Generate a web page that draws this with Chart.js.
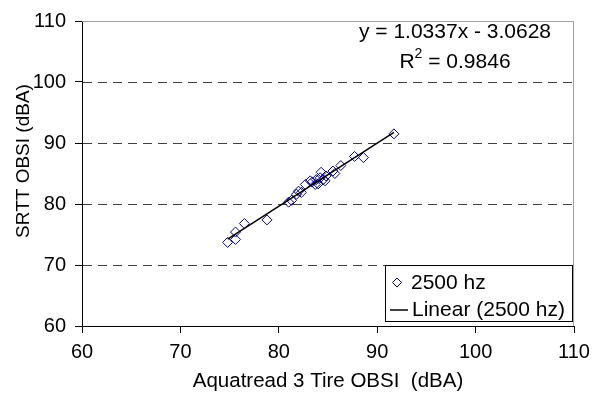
<!DOCTYPE html>
<html>
<head>
<meta charset="utf-8">
<script src="https://cdn.jsdelivr.net/npm/chart.js@4"></script>
<style>
  html, body { margin: 0; padding: 0; background: #fff; }
  #wrap { width: 600px; height: 396px; }
</style>
</head>
<body>
<div id="wrap"><canvas id="chart" width="600" height="396"></canvas></div>
<script>
// Aquatread 3 tire vs SRTT OBSI levels at 2500 hz
const aquatread = [74.8, 75.6, 75.6, 76.5, 78.8, 81.0, 81.3, 81.8, 82.0, 82.3, 82.7, 83.2, 83.4,
    83.7, 83.8, 84.0, 84.2, 84.3, 84.5, 84.7, 84.8, 85.5, 85.7, 86.3, 87.7, 88.6, 91.7];
const srtt = [73.7, 74.2, 75.4, 76.8, 77.4, 80.3, 80.6, 81.6, 82.1, 81.9, 83.2, 83.8, 83.6,
    83.2, 84.0, 83.3, 84.3, 85.2, 84.0, 83.8, 84.6, 85.4, 85.0, 86.3, 87.8, 87.6, 91.5];
const axisTicks = [60, 70, 80, 90, 100, 110];
const gridValues = [70, 80, 90, 100];

// Linear fit reported on the chart
const slope = 1.0337;
const intercept = -3.0628;
const rSquared = 0.9846;

const FONT = "'Liberation Sans', Arial, sans-serif";

const points = aquatread.map((x, i) => ({ x: x, y: srtt[i] }));
const xMin = Math.min(...aquatread);
const xMax = Math.max(...aquatread);
const trend = [xMin, xMax].map(x => ({ x: x, y: slope * x + intercept }));

// dashed horizontal grid under the data
const dashedGrid = {
    id: 'dashedGrid',
    beforeDatasetsDraw(chart) {
        const ctx = chart.ctx;
        const a = chart.chartArea;
        const y = chart.scales.y;
        ctx.save();
        ctx.strokeStyle = '#404040';
        ctx.lineWidth = 1;
        ctx.setLineDash([9, 6]);
        gridValues.forEach(v => {
            const py = Math.round(y.getPixelForValue(v)) + 0.5;
            ctx.beginPath();
            ctx.moveTo(a.left + 1, py);
            ctx.lineTo(a.right, py);
            ctx.stroke();
        });
        ctx.restore();
    }
};

// frame, y title, regression text and legend box
const overlay = {
    id: 'overlay',
    afterDraw(chart) {
        const ctx = chart.ctx;
        const a = chart.chartArea;
        ctx.save();

        ctx.strokeStyle = '#a0a0a0';
        ctx.lineWidth = 1;
        ctx.beginPath();
        ctx.moveTo(a.left, a.top + 0.5);
        ctx.lineTo(a.right - 0.5, a.top + 0.5);
        ctx.lineTo(a.right - 0.5, a.bottom);
        ctx.stroke();

        // y axis title
        ctx.fillStyle = '#000';
        ctx.save();
        ctx.translate(24, 161);
        ctx.rotate(-Math.PI / 2);
        ctx.font = '19px ' + FONT;
        ctx.textAlign = 'center';
        ctx.textBaseline = 'middle';
        ctx.fillText('SRTT OBSI (dBA)', 0, 0);
        ctx.restore();

        // equation
        ctx.font = '21px ' + FONT;
        ctx.textBaseline = 'alphabetic';
        ctx.textAlign = 'center';
        const cx = 455;
        ctx.fillText('y = ' + slope.toFixed(4) + 'x - ' + Math.abs(intercept).toFixed(4), cx, 38);
        const rest = ' = ' + rSquared.toFixed(4);
        const wR = ctx.measureText('R').width;
        ctx.font = '14px ' + FONT;
        const w2 = ctx.measureText('2').width;
        ctx.font = '21px ' + FONT;
        const wRest = ctx.measureText(rest).width;
        const sx = cx - (wR + w2 + wRest) / 2;
        ctx.textAlign = 'left';
        ctx.fillText('R', sx, 68);
        ctx.font = '14px ' + FONT;
        ctx.fillText('2', sx + wR, 58);
        ctx.font = '21px ' + FONT;
        ctx.fillText(rest, sx + wR + w2, 68);

        // legend
        const lx = 385.5, ly = 265.5, lw = 187, lh = 56;
        ctx.fillStyle = '#fff';
        ctx.fillRect(lx, ly, lw, lh);
        ctx.strokeStyle = '#000';
        ctx.strokeRect(lx, ly, lw, lh);

        ctx.strokeStyle = '#000080';
        ctx.beginPath();
        ctx.moveTo(397, 278);
        ctx.lineTo(401.5, 282.5);
        ctx.lineTo(397, 287);
        ctx.lineTo(392.5, 282.5);
        ctx.closePath();
        ctx.stroke();

        ctx.strokeStyle = '#000';
        ctx.lineWidth = 1.5;
        ctx.beginPath();
        ctx.moveTo(390, 310);
        ctx.lineTo(408, 310);
        ctx.stroke();

        ctx.fillStyle = '#000';
        ctx.textBaseline = 'middle';
        ctx.fillText('2500 hz', 411, 283);
        ctx.fillText('Linear (2500 hz)', 412, 310);
        ctx.restore();
    }
};

new Chart(document.getElementById('chart'), {
    type: 'scatter',
    data: {
        datasets: [
            {
                label: 'Linear (2500 hz)',
                type: 'line',
                data: trend,
                borderColor: '#000',
                borderWidth: 1.5,
                pointRadius: 0,
                fill: false
            },
            {
                label: '2500 hz',
                data: points,
                pointStyle: 'rectRot',
                pointRadius: 5,
                pointBorderColor: '#000080',
                pointBackgroundColor: 'rgba(0,0,0,0)',
                pointBorderWidth: 1
            }
        ]
    },
    options: {
        responsive: false,
        animation: false,
        layout: { padding: { top: 12, right: 26, left: 0, bottom: 0 } },
        plugins: {
            legend: { display: false },
            tooltip: { enabled: false }
        },
        scales: {
            x: {
                type: 'linear',
                min: 60,
                max: 110,
                afterBuildTicks: s => { s.ticks = axisTicks.map(v => ({ value: v })); },
                afterFit: s => { s.height = 70; },
                border: { color: '#000', width: 1 },
                grid: { drawOnChartArea: false, drawTicks: true, tickLength: 7, tickColor: '#000' },
                ticks: { color: '#000', font: { family: FONT, size: 20 }, padding: 7, maxRotation: 0 },
                title: {
                    display: true,
                    text: 'Aquatread 3 Tire OBSI  (dBA)',
                    color: '#000',
                    font: { family: FONT, size: 20.5 },
                    padding: { top: 0, bottom: 2 }
                }
            },
            y: {
                type: 'linear',
                min: 60,
                max: 110,
                afterBuildTicks: s => { s.ticks = axisTicks.map(v => ({ value: v })); },
                afterFit: s => { s.width = 82; },
                border: { color: '#000', width: 1 },
                grid: { drawOnChartArea: false, drawTicks: true, tickLength: 7, tickColor: '#000' },
                ticks: { color: '#000', font: { family: FONT, size: 20 }, padding: 9 }
            }
        }
    },
    plugins: [dashedGrid, overlay]
});
</script>
</body>
</html>
